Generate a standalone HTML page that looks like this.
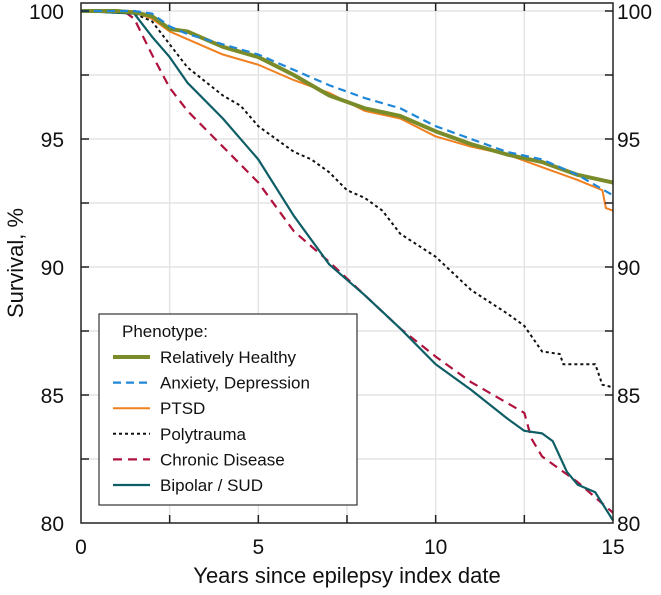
<!DOCTYPE html>
<html><head><meta charset="utf-8"><style>
body{margin:0;background:#fff;font-family:"Liberation Sans",sans-serif}
svg text{font-family:"Liberation Sans",sans-serif;fill:#111}
</style></head><body>
<svg id="chart" width="661" height="590" xmlns="http://www.w3.org/2000/svg">
<g id="grid"></g>
<g id="series"></g>
<rect x="81" y="3" width="532" height="520" fill="none" stroke="#222" stroke-width="1.5"/>
<g id="ticks"></g>
<text transform="translate(23,263) rotate(-90)" text-anchor="middle" font-size="22">Survival, %</text>
<text x="347" y="583" text-anchor="middle" font-size="22">Years since epilepsy index date</text>
<g id="legend">
<rect x="99" y="314" width="258" height="191" fill="#fff" stroke="#333" stroke-width="1.2"/>
<text x="122" y="337" font-size="17">Phenotype:</text>
</g>
</svg>
<script>
const xTicks=[0,5,10,15];
const yTicks=[80,85,90,95,100];
const names=["Relatively Healthy","Anxiety, Depression","PTSD","Polytrauma","Chronic Disease","Bipolar / SUD"];
const healthyT=[0,1,1.5,2,2.5,3,3.5,4,5,6,7,8,9,10,11,12,13,14,15];
const healthyV=[100,100,99.95,99.8,99.3,99.2,98.9,98.6,98.2,97.5,96.7,96.2,95.9,95.3,94.8,94.4,94.1,93.6,93.3];
const anxietyT=[0,1.5,2,2.5,3,4,5,6,7,8,9,10,11,12,13,14,15];
const anxietyV=[100,100,99.9,99.4,99.1,98.7,98.3,97.7,97.1,96.6,96.2,95.5,95.0,94.5,94.2,93.6,92.8];
const ptsdT=[0,1.5,2,2.5,3,4,5,6,7,8,9,10,11,12,13,14,14.7,14.8,15];
const ptsdV=[100,99.95,99.7,99.2,98.9,98.3,97.9,97.3,96.8,96.1,95.8,95.1,94.7,94.4,93.9,93.4,93.0,92.3,92.2];
const polyT=[0,1.5,2,2.5,3,4,4.5,5,6,6.5,7,7.5,8,8.5,9,10,11,12,12.5,13,13.5,13.6,14.5,14.7,15];
const polyV=[100,99.9,99.6,98.7,97.8,96.7,96.3,95.5,94.5,94.2,93.7,93.0,92.7,92.2,91.3,90.4,89.1,88.2,87.7,86.7,86.6,86.2,86.2,85.4,85.3];
const chronicT=[0,1.2,1.5,2,2.5,3,4,5,6,7,8,9,10,11,12,12.5,12.7,13,13.5,14,15];
const chronicV=[100,100,99.7,98.3,97.0,96.1,94.7,93.3,91.4,90.2,88.9,87.6,86.5,85.5,84.7,84.3,83.3,82.6,82.1,81.6,80.4];
const bipolarT=[0,1.5,2,2.5,3,4,5,6,7,8,9,10,11,12,12.5,13,13.3,13.7,14,14.5,15];
const bipolarV=[100,99.9,99.0,98.2,97.2,95.8,94.2,92.0,90.1,88.9,87.6,86.2,85.2,84.1,83.6,83.5,83.2,82.0,81.5,81.2,80.1];
const styles=[["#7a8c2a",4,""],["#1f87d6",2.2,"8,5"],["#f08020",2,""],["#111",2,"3,3"],["#b0123e",2.2,"9,6"],["#0e5e66",2.2,""]];
const xs=v=>81+v*532/15, ys=v=>11+(100-v)*25.6;
const NS="http://www.w3.org/2000/svg";
const mk=(p,t,a)=>{const e=document.createElementNS(NS,t);for(const k in a)e.setAttribute(k,a[k]);p.appendChild(e);return e;};
const grid=document.getElementById('grid'),ticks=document.getElementById('ticks'),ser=document.getElementById('series'),leg=document.getElementById('legend');
for(let v=2.5;v<15;v+=2.5){const g=mk(grid,'line',{x1:xs(v),x2:xs(v),y1:3,y2:523,stroke:'#e4e4e4','stroke-width':1.5});


[[3,11],[523,515]].forEach(([a,b])=>{const t=mk(ticks,'line',{x1:xs(v),x2:xs(v),y1:a,y2:b,stroke:'#222','stroke-width':1.5});

});}
for(let v=82.5;v<=100;v+=2.5){const g=mk(grid,'line',{x1:81,x2:613,y1:ys(v),y2:ys(v),stroke:'#e4e4e4','stroke-width':1.5});


[[81,89],[613,605]].forEach(([a,b])=>{const t=mk(ticks,'line',{x1:a,x2:b,y1:ys(v),y2:ys(v),stroke:'#222','stroke-width':1.5});

});}
xTicks.forEach(v=>{const t=mk(ticks,'text',{x:xs(v),y:554,'text-anchor':'middle','font-size':21});t.textContent=v;

});
yTicks.forEach(v=>{const t=mk(ticks,'text',{x:64,y:ys(v)+8,'text-anchor':'end','font-size':21});t.textContent=v;


const r=mk(ticks,'text',{x:617,y:ys(v)+8,'font-size':21});r.textContent=v;

});
const data=[[healthyT,healthyV],[anxietyT,anxietyV],[ptsdT,ptsdV],[polyT,polyV],[chronicT,chronicV],[bipolarT,bipolarV]];
const order=[3,4,5,2,0,1];
order.forEach(i=>{const [T,V]=data[i],[c,w,d]=styles[i];
const p=mk(ser,'polyline',{points:T.map((t,j)=>xs(t)+','+ys(V[j])).join(' '),fill:'none',stroke:c,'stroke-width':w,'stroke-dasharray':d,'stroke-linejoin':'round'});

});
names.forEach((n,i)=>{const y=363+i*25.6,[c,w,d]=styles[i];
const l=mk(leg,'line',{x1:113,x2:150,y1:y-6,y2:y-6,stroke:c,'stroke-width':w,'stroke-dasharray':d});


const t=mk(leg,'text',{x:160,y:y,'font-size':17});t.textContent=n;

});
</script>
</body></html>
